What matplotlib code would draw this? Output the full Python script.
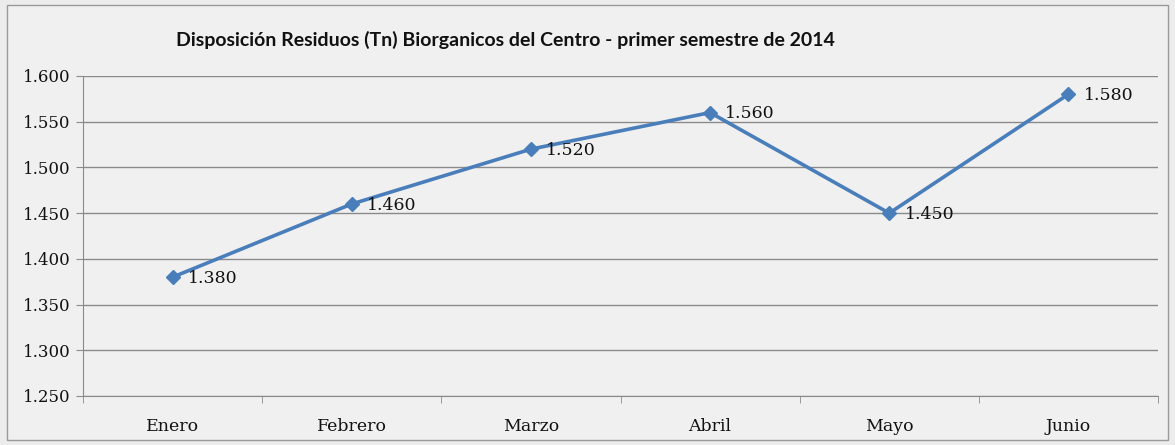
import matplotlib
matplotlib.use("Agg")
import matplotlib.pyplot as plt
from matplotlib.patches import Rectangle
from matplotlib.ticker import FuncFormatter, FixedLocator

categories = ["Enero", "Febrero", "Marzo", "Abril", "Mayo", "Junio"]
values = [1380, 1460, 1520, 1560, 1450, 1580]
yticks = [1250, 1300, 1350, 1400, 1450, 1500, 1550, 1600]
title = "Disposición Residuos (Tn) Biorganicos del Centro - primer semestre de 2014"

def fmt(v, pos=None):
    s = f"{int(round(v)):,}".replace(",", ".")
    return s

W, H = 1175, 445
fig = plt.figure(figsize=(W / 100, H / 100), dpi=100)
fig.patch.set_facecolor("#ececec")
fig.add_artist(Rectangle((7 / W, 5 / H), (1168 - 7) / W, (440 - 5) / H,
                         transform=fig.transFigure, fill=True, facecolor="#f0f0f0",
                         edgecolor="#9a9a9a", linewidth=1.0, zorder=0))

ax = fig.add_axes([83 / W, 1 - 396 / H, (1158 - 83) / W, (396 - 76) / H])
ax.set_facecolor("none")
x = list(range(len(categories)))
ax.plot(x, values, color="#4A7EBB", linewidth=2.6, marker="D", markersize=7,
        markerfacecolor="#4A7EBB", markeredgecolor="#4A7EBB", zorder=3)
for xi, v in zip(x, values):
    ax.annotate(fmt(v), (xi, v), xytext=(11, -1), textcoords="offset points",
                ha="left", va="center", fontsize=12.5, family="DejaVu Serif",
                color="#111111")

ax.set_xlim(-0.5, len(categories) - 0.5)
ax.set_ylim(1250, 1600)
ax.yaxis.set_major_locator(FixedLocator(yticks))
ax.yaxis.set_major_formatter(FuncFormatter(fmt))
ax.set_xticks(x)
ax.set_xticklabels(categories)
ax.set_xticks([i + 0.5 for i in range(-1, len(categories))], minor=True)
ax.grid(axis="y", color="#8a8a8a", linewidth=1.0)
for s in ["top", "right"]:
    ax.spines[s].set_visible(False)
ax.spines["left"].set_color("#8a8a8a")
ax.spines["bottom"].set_color("#8a8a8a")
ax.tick_params(axis="y", which="major", length=5, color="#8a8a8a",
               labelsize=12, pad=4)
ax.tick_params(axis="x", which="major", length=0, labelsize=12.5, pad=16)
ax.tick_params(axis="x", which="minor", length=5, color="#8a8a8a")
for lab in ax.get_yticklabels() + ax.get_xticklabels():
    lab.set_family("DejaVu Serif")
    lab.set_color("#111111")

fig.text(505 / W, 1 - 40 / H, title, ha="center", va="center", fontsize=14,
         family="Lato", fontweight="bold", color="#111111")

fig.savefig("out.png", dpi=100, facecolor=fig.get_facecolor())
